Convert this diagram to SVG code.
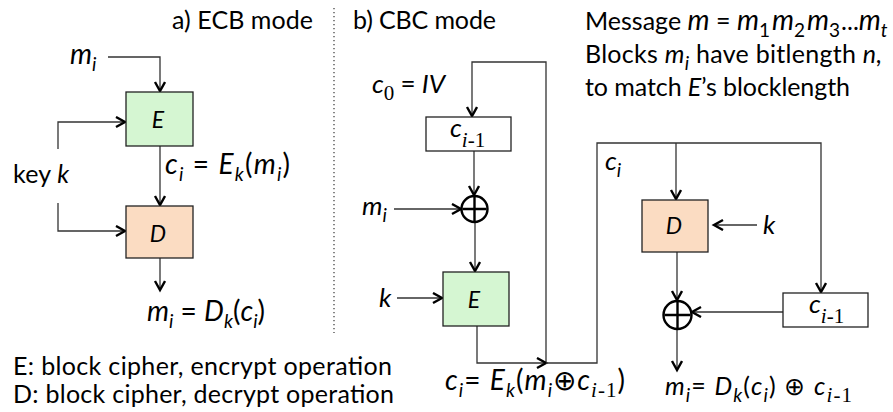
<svg xmlns="http://www.w3.org/2000/svg" width="893" height="412" viewBox="0 0 893 412">
<style>
.t{font-family:Lato,"Liberation Sans",sans-serif;font-size:25px;fill:#000}
.m{font-size:26px}
.f{font-size:28px}
.big{font-size:28px}
.b{font-size:23px}
.i{font-style:italic}
.sb{font-size:19px}
.sf{font-family:"Liberation Serif",serif;font-size:21px}
.ln{stroke:#333;stroke-width:1.3;fill:none}
.bx{stroke:#222;stroke-width:1.3}
.xo{stroke:#000;stroke-width:2.4;fill:#fff}
.xp{stroke:#000;stroke-width:2.4;fill:none}
</style>
<defs>
<marker id="a" markerUnits="userSpaceOnUse" markerWidth="14" markerHeight="14" refX="10" refY="6" orient="auto">
<path d="M1,1 L10,6 L1,11" fill="none" stroke="#000" stroke-width="2.4"/>
</marker>
</defs>
<rect width="893" height="412" fill="#fff"/>
<line x1="334" y1="8" x2="334" y2="333" stroke="#444" stroke-width="1.3" stroke-dasharray="1.3,2.7"/>
<g id="connectors">
<path class="ln" d="M108,57 H160 V91" marker-end="url(#a)"/>
<path class="ln" d="M58,149 V122 H125" marker-end="url(#a)"/>
<path class="ln" d="M160,146 V205" marker-end="url(#a)"/>
<path class="ln" d="M58,203 V231 H125" marker-end="url(#a)"/>
<path class="ln" d="M160,258 V290" marker-end="url(#a)"/>
<path class="ln" d="M546,363 V62 H472 V116" marker-end="url(#a)"/>
<path class="ln" d="M474,151 V195" marker-end="url(#a)"/>
<path class="ln" d="M394,209 H461" marker-end="url(#a)"/>
<path class="ln" d="M475,223 V271" marker-end="url(#a)"/>
<path class="ln" d="M397,298 H442" marker-end="url(#a)"/>
<path class="ln" d="M477,326 V363 H546" marker-end="url(#a)"/>
<path class="ln" d="M546,363 H597 V143 H821 V292" marker-end="url(#a)"/>
<path class="ln" d="M676,143 V199" marker-end="url(#a)"/>
<path class="ln" d="M757,225 H714" marker-end="url(#a)"/>
<path class="ln" d="M677,252 V300" marker-end="url(#a)"/>
<path class="ln" d="M783,312 H692" marker-end="url(#a)"/>
<path class="ln" d="M677,329 V370" marker-end="url(#a)"/>
</g>
<g id="ecb-title"><text class="t" x="172" y="29" textLength="141">a) ECB mode</text></g>
<g id="cbc-title"><text class="t" x="353" y="29" textLength="143">b) CBC mode</text></g>
<g id="ecb-mi"><text class="t f i" x="70" y="64">m<tspan class="sb" dy="7">i</tspan></text></g>
<g id="ecb-key"><text class="t" x="13" y="183" textLength="56">key <tspan class="i">k</tspan></text></g>
<g id="ecb-E">
<rect class="bx" x="126" y="92" width="67" height="54" fill="#d5f6d2"/>
<text class="t b i" x="158" y="128" text-anchor="middle">E</text>
</g>
<g id="ecb-ci"><text class="t f" x="165" y="174" textLength="125"><tspan class="i">c</tspan><tspan class="sb i" dy="7">i</tspan><tspan dy="-7"> = </tspan><tspan class="i">E</tspan><tspan class="sb i" dy="7">k</tspan><tspan dy="-7">(</tspan><tspan class="i">m</tspan><tspan class="sb i" dy="7">i</tspan><tspan dy="-7">)</tspan></text></g>
<g id="ecb-D">
<rect class="bx" x="126" y="206" width="67" height="52" fill="#fbdcc2"/>
<text class="t b i" x="158" y="242" text-anchor="middle">D</text>
</g>
<g id="ecb-mi-out"><text class="t f" x="147" y="321" textLength="118"><tspan class="i">m</tspan><tspan class="sb i" dy="7">i</tspan><tspan dy="-7"> = </tspan><tspan class="i">D</tspan><tspan class="sb i" dy="7">k</tspan><tspan dy="-7">(</tspan><tspan class="i">c</tspan><tspan class="sb i" dy="7">i</tspan><tspan dy="-7">)</tspan></text></g>
<g id="legend">
<text class="t" x="13" y="375" textLength="379">E: block cipher, encrypt operation</text>
<text class="t" x="13" y="403" textLength="381">D: block cipher, decrypt operation</text>
</g>
<g id="message">
<text class="t" x="585" y="30">Message <tspan class="big i">m</tspan> = <tspan class="big i">m</tspan><tspan class="sb" dy="7">1</tspan><tspan class="big i" dx="2" dy="-7">m</tspan><tspan class="sb" dy="7">2</tspan><tspan class="big i" dx="2" dy="-7">m</tspan><tspan class="sb" dy="7">3</tspan><tspan dx="1" dy="-7">...</tspan><tspan class="big i">m</tspan><tspan class="sb i" dy="7">t</tspan></text>
<text class="t" x="585" y="63" textLength="297">Blocks <tspan class="i">m</tspan><tspan class="sb i" dy="7">i</tspan><tspan dy="-7"> have bitlength </tspan><tspan class="i">n,</tspan></text>
<text class="t" x="585" y="96" textLength="265">to match <tspan class="i">E</tspan>’s blocklength</text>
</g>
<g id="cbc-c0"><text class="t m" x="372" y="93" textLength="73"><tspan class="i">c</tspan><tspan class="sf" dy="7">0</tspan><tspan dy="-7"> = </tspan><tspan class="i">IV</tspan></text></g>
<g id="cbc-cprev">
<rect class="bx" x="426" y="117" width="85" height="34" fill="#fff"/>
<text class="t m i" x="450" y="137">c<tspan class="sf" dy="10">i</tspan><tspan class="sf" font-style="normal">-1</tspan></text>
</g>
<g id="cbc-mi"><text class="t m i" x="362" y="215">m<tspan class="sb" dy="7">i</tspan></text></g>
<g id="cbc-xor">
<circle class="xo" cx="474.5" cy="209" r="13"/>
<path class="xp" d="M474.5,197 V221 M462.5,209 H486.5"/>
</g>
<g id="cbc-k"><text class="t m i" x="379" y="307">k</text></g>
<g id="cbc-E">
<rect class="bx" x="443" y="272" width="66" height="54" fill="#d5f6d2"/>
<text class="t b i" x="474" y="308" text-anchor="middle">E</text>
</g>
<g id="cbc-ci-out"><text class="t f" x="445" y="390" textLength="180"><tspan class="i">c</tspan><tspan class="sb i" dy="7">i</tspan><tspan dy="-7">= </tspan><tspan class="i">E</tspan><tspan class="sb i" dy="7">k</tspan><tspan dy="-7">(</tspan><tspan class="i">m</tspan><tspan class="sb i" dy="7">i</tspan><tspan dy="-7">⊕</tspan><tspan class="i">c</tspan><tspan class="sf i" dy="7">i</tspan><tspan class="sf">-1</tspan><tspan dy="-7">)</tspan></text></g>
<g id="cbc-ci"><text class="t m i" x="605" y="170">c<tspan class="sb" dy="7">i</tspan></text></g>
<g id="cbc-D">
<rect class="bx" x="642" y="200" width="66" height="52" fill="#fbdcc2"/>
<text class="t b i" x="674" y="234" text-anchor="middle">D</text>
</g>
<g id="cbc-k2"><text class="t m i" x="763" y="234">k</text></g>
<g id="cbc-xor2">
<circle class="xo" cx="677.5" cy="315" r="14"/>
<path class="xp" d="M677.5,302 V328 M664.5,315 H690.5"/>
</g>
<g id="cbc-cprev2">
<rect class="bx" x="783" y="293" width="85" height="34" fill="#fff"/>
<text class="t m i" x="809" y="313">c<tspan class="sf" dy="10">i</tspan><tspan class="sf" font-style="normal">-1</tspan></text>
</g>
<g id="cbc-mi-out"><text class="t" x="665" y="395" font-size="27" textLength="187"><tspan class="i">m</tspan><tspan class="sb i" dy="7">i</tspan><tspan dy="-7">= </tspan><tspan class="i">D</tspan><tspan class="sb i" dy="7">k</tspan><tspan dy="-7">(</tspan><tspan class="i">c</tspan><tspan class="sb i" dy="7">i</tspan><tspan dy="-7">) ⊕ </tspan><tspan class="i">c</tspan><tspan class="sf i" dy="7">i</tspan><tspan class="sf">-1</tspan></text></g>
</svg>
